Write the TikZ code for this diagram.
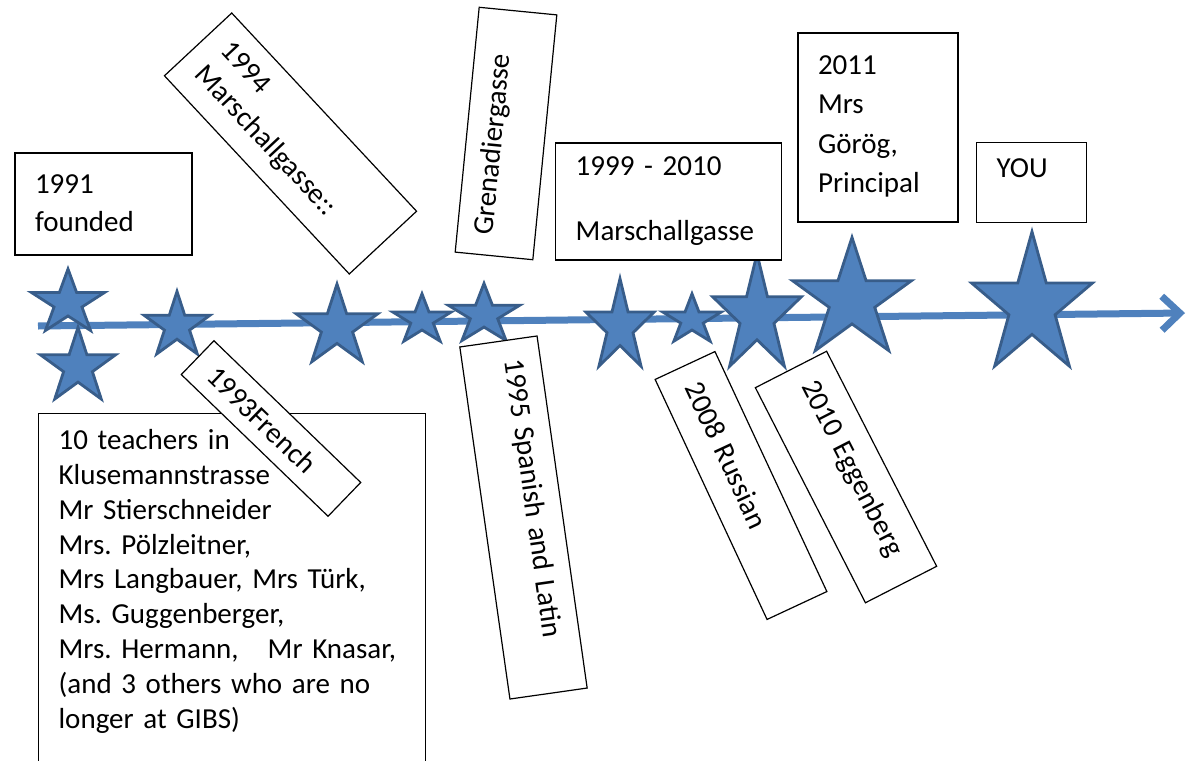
\documentclass[tikz,border=0pt]{standalone}
\usepackage{fontspec}
\setmainfont{Carlito}
\usetikzlibrary{shapes.geometric,arrows.meta}
\definecolor{starblue}{HTML}{4F81BD}
\definecolor{stardark}{HTML}{385D8A}
\frenchspacing

\begin{document}
\begin{tikzpicture}[
  x=0.5pt, y=-0.5pt,
  box/.style={rectangle, draw=black, line width=0.6pt, fill=white,
              inner xsep=10pt, inner ysep=0pt, align=left,
              font=\fontsize{14.5}{17.4}\selectfont},
  starnode/.style={star, star points=5, star point ratio=2.618,
                   draw=stardark, fill=starblue, line width=1.4pt, inner sep=0pt},
  timeline/.style={draw=starblue, line width=3.5pt,
                   -{Straight Barb[length=9pt,width=17pt]}}
]
\useasboundingbox (0,0) rectangle (1187,760);
\clip (0,0) rectangle (1187,760);

% Timeline
\coordinate (tstart) at (38,326);
\coordinate (tend)   at (1185,313);
\draw[timeline] (tstart) -- (tend);

% Stars
\node[starnode, minimum size=34pt,   xscale=1.13] (s1)  at (68,303)  {};
\node[starnode, minimum size=39.6pt]              (s2)  at (78,367)  {};
\node[starnode, minimum size=34.6pt]              (s3)  at (177,326) {};
\node[starnode, minimum size=43pt]                (s4)  at (337,327) {};
\node[starnode, minimum size=26.2pt, xscale=1.18] (s5)  at (422,320) {};
\node[starnode, minimum size=31.6pt, xscale=1.19] (s6)  at (484,315) {};
\node[starnode, minimum size=48.4pt, xscale=0.74] (s7)  at (620,327) {};
\node[starnode, minimum size=26.2pt, xscale=1.18] (s8)  at (692,320) {};
\node[starnode, minimum size=62.2pt, xscale=0.75] (s9)  at (757,316) {};
\node[starnode, minimum size=62.6pt]              (s10) at (852,300) {};
\node[starnode, minimum size=74.3pt, xscale=0.855] (s11) at (1032,306) {};

% Boxes above the line
\node[box, text width=68.5pt, minimum height=51pt] (found) at (103.5,204)
  {1991\\[1.6pt]founded\\[-16pt]\mbox{}};
\node[box, text width=115.5pt, minimum height=46pt, rotate=-47] (marsch94) at (290.5,143.5)
  {1994\\Marschallgasse::};
\node[box, text width=103pt, minimum height=39pt, rotate=84.4] (gren) at (506,133.5)
  {Grenadiergasse\\[-4pt]\mbox{}};
\node[box, text width=93pt, minimum height=58.5pt] (marsch99) at (668.7,201.5)
  {1999 - 2010\\[15.1pt]Marschallgasse};
\node[box, text width=60pt, minimum height=94.5pt] (gorog) at (878,127.5)
  {2011\\[2.4pt]Mrs\\[2.4pt]Görög,\\[2.4pt]Principal\\[-14pt]\mbox{}};
\node[box, text width=35pt, minimum height=40pt] (you) at (1031.7,182.7)
  {YOU\\[-2.4pt]\mbox{}};

% Boxes below the line
\node[box, anchor=north west, text width=173.5pt, inner ysep=8pt] (teach) at (38,413)
  {10 teachers in\\Klusemannstrasse\\Mr Stierschneider\\Mrs. Pölzleitner,\\
   Mrs Langbauer, Mrs Türk,\\Ms. Guggenberger,\\Mrs. Hermann, \ \ Mr Knasar,\\
   (and 3 others who are no\\longer at GIBS)\\\mbox{}};
\node[box, text width=82pt, minimum height=23.5pt, rotate=-44] (french) at (271,428.5)
  {1993French};
\node[box, text width=157.8pt, minimum height=39pt, rotate=-81.9] (spanish) at (523.5,517.5)
  {1995 Spanish and Latin\\[-4pt]\mbox{}};
\node[box, text width=112.4pt, minimum height=33pt, rotate=-65] (russian) at (741,485.5)
  {2008 Russian};
\node[box, text width=100.8pt, minimum height=40pt, rotate=-62.9] (eggen) at (846,477)
  {2010 Eggenberg\\[-6pt]\mbox{}};

\end{tikzpicture}
\end{document}
